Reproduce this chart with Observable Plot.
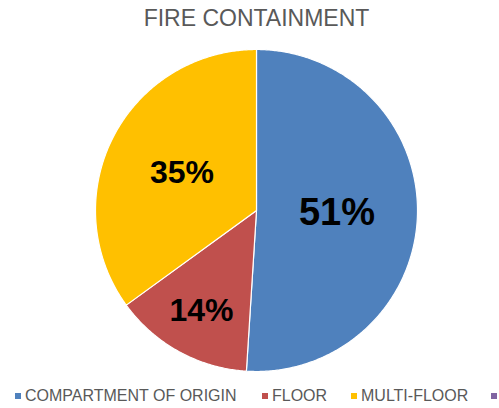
<!DOCTYPE html>
<html><head><meta charset="utf-8">
<script src="https://cdn.jsdelivr.net/npm/d3@7"></script>
<script src="https://cdn.jsdelivr.net/npm/@observablehq/plot@0.6"></script>
<style>
html,body{margin:0;padding:0;background:#fff;width:499px;height:408px;overflow:hidden;font-family:"Liberation Sans",Arial,sans-serif;}
#title{height:36px;line-height:36px;font-size:23px;color:#595959;text-align:center;padding-left:14px;box-sizing:border-box;}
#legend{position:relative;white-space:nowrap;overflow:hidden;font-size:16px;color:#595959;height:24px;}
#legend .it{position:absolute;top:0;height:24px;display:flex;align-items:center;}
#legend .sw{width:6px;height:6px;margin-right:4px;}
svg{display:block}
</style></head>
<body>
<div id="title">FIRE CONTAINMENT</div>
<div id="chart"></div>
<div id="legend"></div>
<script>
const categories = ["COMPARTMENT OF ORIGIN", "FLOOR", "MULTI-FLOOR", ""];
const values = [51, 14, 35, 0];
const labels = ["51%", "14%", "35%", ""];
const colors = ["#4F81BD", "#C0504D", "#FFC000", "#8064A2"];

const total = d3.sum(values);
const labelRadius = [0.5, 0.71, 0.52, 0.5];
const labelSize = [38, 32, 32, 32];
const slices = [];
const labelRows = [];
let acc = 0;
values.forEach((v, i) => {
  const a0 = acc / total * 2 * Math.PI;
  acc += v;
  const a1 = acc / total * 2 * Math.PI;
  if (v <= 0) return;
  slices.push({cat: categories[i], x: 0, y: 0});
  const n = Math.max(2, Math.ceil((a1 - a0) / (Math.PI / 360)));
  for (let k = 0; k <= n; k++) {
    const a = a0 + (a1 - a0) * k / n;
    slices.push({cat: categories[i], x: Math.sin(a), y: Math.cos(a)});
  }
  slices.push({cat: categories[i], x: 0, y: 0});
  const am = (a0 + a1) / 2;
  labelRows.push({x: labelRadius[i] * Math.sin(am), y: labelRadius[i] * Math.cos(am), t: labels[i], s: labelSize[i]});
});

const plot = Plot.plot({
  width: 499, height: 348,
  marginLeft: 95, marginRight: 82, marginTop: 13, marginBottom: 13,
  x: {domain: [-1, 1], axis: null},
  y: {domain: [-1, 1], axis: null},
  color: {domain: categories, range: colors},
  marks: [
    Plot.line(slices, {x: "x", y: "y", z: "cat", fill: "cat", stroke: "#fff", strokeWidth: 1.2, curve: "linear"}),
    Plot.text(labelRows, {x: "x", y: "y", text: "t", fontSize: "s", fontWeight: "bold", fill: "#000", fontFamily: "Liberation Sans, Arial, sans-serif"})
  ]
});
document.getElementById("chart").appendChild(plot);

const legendLeft = [15, 262, 351, 491];
const lg = document.getElementById("legend");
categories.forEach((c, i) => {
  const it = document.createElement("div"); it.className = "it"; it.style.left = legendLeft[i] + "px";
  const sw = document.createElement("div"); sw.className = "sw"; sw.style.background = colors[i];
  const tx = document.createElement("span"); tx.textContent = c;
  it.appendChild(sw); it.appendChild(tx); lg.appendChild(it);
});
</script>
</body></html>
